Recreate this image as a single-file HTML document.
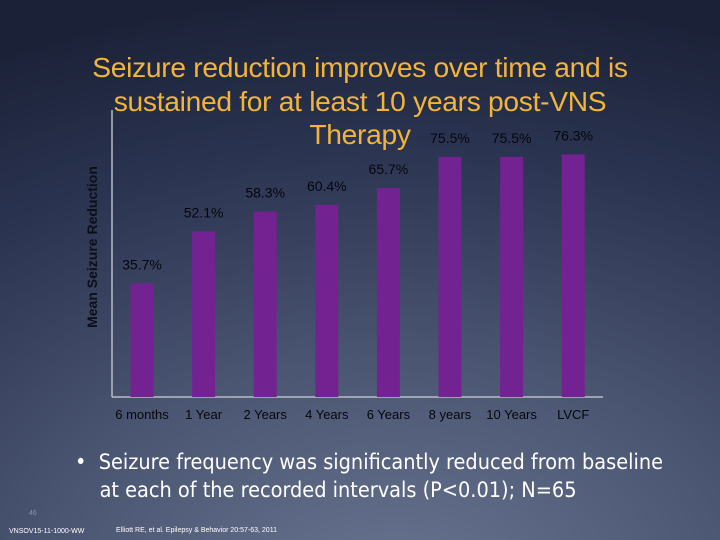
<!DOCTYPE html>
<html><head><meta charset="utf-8"><style>
html,body{margin:0;padding:0}
body{width:720px;height:540px;overflow:hidden;position:relative;
background:radial-gradient(ellipse 900px 600px at 55% 110%,#6a7590 0%,#4a5572 40%,#2a3350 75%,#1b2238 100%);
font-family:"Liberation Sans",sans-serif}
.t{position:absolute;white-space:nowrap}
</style></head><body>
<div class="t" style="left:0;width:720px;top:51px;text-align:center;color:#f2b43a;font-size:28.2px;line-height:33.5px;letter-spacing:-0.3px">Seizure reduction improves over time and is<br>sustained for at least 10 years post-VNS<br>Therapy</div>
<svg id="c" width="720" height="540" style="position:absolute;left:0;top:0">
<text transform="translate(97,247) rotate(-90)" text-anchor="middle" font-size="14" font-weight="bold" fill="#0c0f1a" font-family="Liberation Sans">Mean Seizure Reduction</text>
</svg>
<div class="t" style="left:75px;top:449px;color:#fff;font-size:21.5px;line-height:28px;font-family:'DejaVu Sans Condensed','Liberation Sans',sans-serif">•&nbsp; Seizure frequency was significantly reduced from baseline<br>&nbsp;&nbsp;&nbsp; at each of the recorded intervals (P&lt;0.01); N=65</div>
<div class="t" style="left:29px;top:510px;color:#8a93a8;font-size:7px">46</div>
<div class="t" style="left:9px;top:528px;color:#fff;font-size:7px">VNSOV15-11-1000-WW</div>
<div class="t" style="left:116px;top:527px;color:#fff;font-size:7px">Elliott RE, et al. Epilepsy &amp; Behavior 20:57-63, 2011</div>
<script>
const categories=["6 months","1 Year","2 Years","4 Years","6 Years","8 years","10 Years","LVCF"];
const values=[35.7,52.1,58.3,60.4,65.7,75.5,75.5,76.3];
const valueLabels=["35.7%","52.1%","58.3%","60.4%","65.7%","75.5%","75.5%","76.3%"];
const svg=document.getElementById('c');const NS='http://www.w3.org/2000/svg';
const x0=112,x1=603,y0=397,scale=3.18,step=61.6,first=142,bw=23;
const xS=i=>first+i*step;const yS=v=>y0-v*scale;
function mk(t,a){const e=document.createElementNS(NS,t);for(const k in a)e.setAttribute(k,a[k]);svg.appendChild(e);return e;}
let ax=mk('line',{x1:x0,y1:110,x2:x0,y2:y0,stroke:'#b8bcc8','stroke-width':1.5});


let bx=mk('line',{x1:x0,y1:y0,x2:x1,y2:y0,stroke:'#b8bcc8','stroke-width':1.5});


values.forEach((v,i)=>{
 const r=mk('rect',{x:xS(i)-bw/2,y:yS(v),width:bw,height:y0-yS(v),fill:'#722391'});
 
 
 const l=mk('text',{x:xS(i),y:yS(v)-14,'text-anchor':'middle','font-size':14,fill:'#05070d','font-family':'Liberation Sans'});
 l.textContent=valueLabels[i];
 
 
 const c=mk('text',{x:xS(i),y:419,'text-anchor':'middle','font-size':13,fill:'#05070d','font-family':'Liberation Sans'});
 c.textContent=categories[i];
 
 
});
</script>
</body></html>
